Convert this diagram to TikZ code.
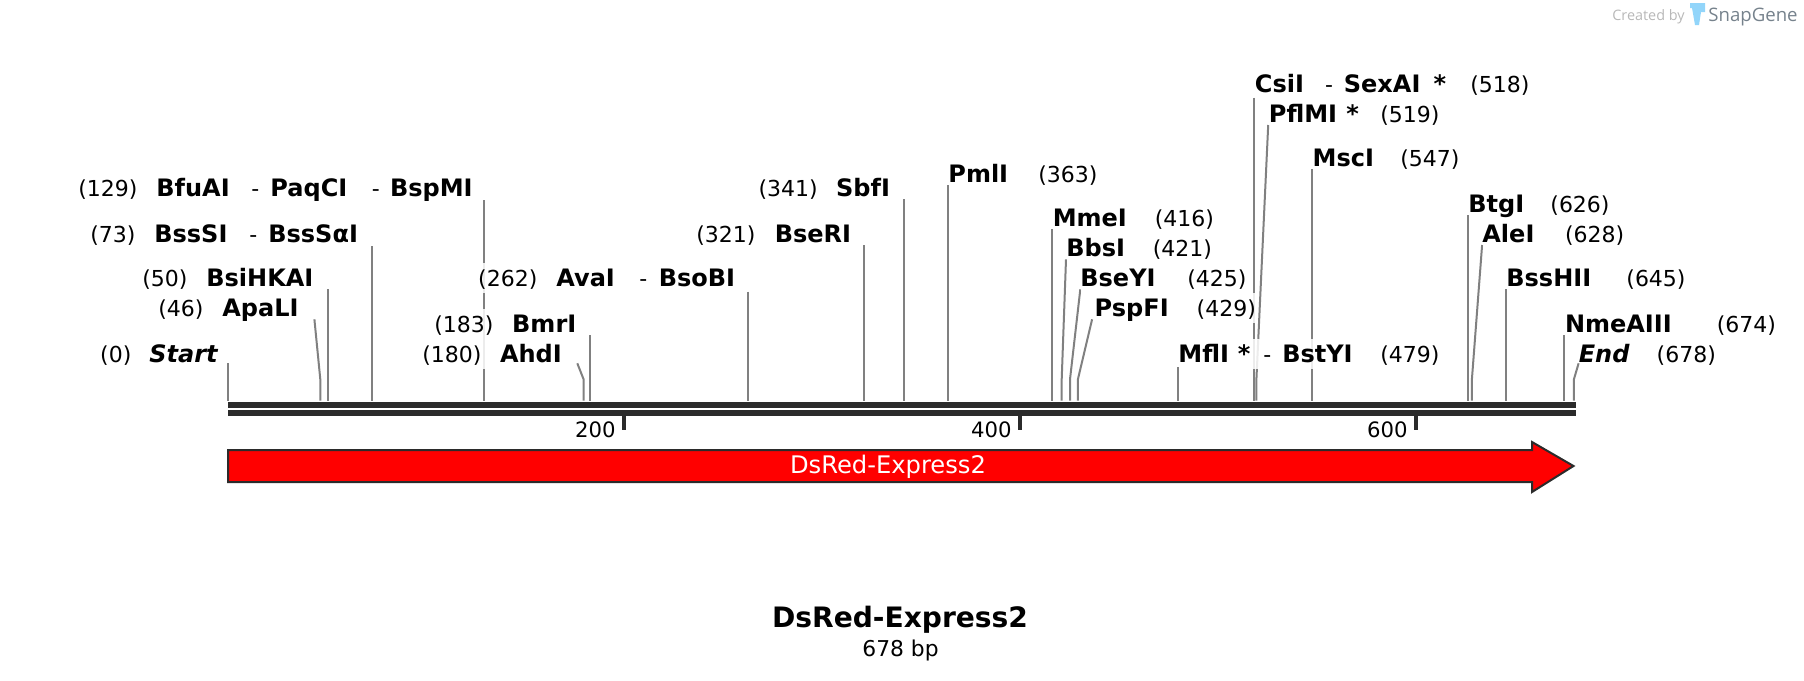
\documentclass[tikz,border=0pt]{standalone}
\usepackage{fontspec}
\usepackage{xcolor}
\usepackage{tikz}
\usetikzlibrary{backgrounds}
\setmainfont{DejaVu Sans}
\newfontfamily\logofont{Open Sans}

\definecolor{strandgray}{HTML}{2B2B2B}
\definecolor{leadergray}{HTML}{808080}
\definecolor{logoblue}{HTML}{92D5FA}
\definecolor{logogray}{HTML}{76828C}

% fixed width piece of a label, width in pt
\newcommand{\tk}[2]{\makebox[#1pt][l]{#2}}
\newcommand{\bp}[1]{{\fontsize{11pt}{12pt}\mdseries\selectfont(#1)}}
\newcommand{\dash}{{\fontsize{11pt}{12pt}\mdseries\selectfont-}}

\tikzset{
    sitelabel/.style={anchor=west, inner xsep=0pt, inner ysep=0pt, execute at begin node={\hspace*{-.5pt}},
        text height=11.75pt, text depth=3.25pt, fill=white, fill opacity=.85, text opacity=1,
        font=\fontsize{12pt}{13pt}\bfseries\selectfont},
    leader/.style={draw=leadergray, line width=1pt, shorten >=.5pt},
    strand/.style={rectangle, fill=strandgray, inner sep=0pt, minimum width=673.65pt, minimum height=3pt},
    ticktext/.style={anchor=base east, inner sep=0pt, font=\fontsize{10.6pt}{12pt}\selectfont},
}

\begin{document}
\begin{tikzpicture}[x=0.5pt, y=-0.5pt]
    \useasboundingbox (0,0) rectangle (1804,680);

    % backbone
    \node (strandtop) at (901.85,405) [strand] {};
    \node (strandbottom) at (901.85,413) [strand] {};

    % feature arrow
    \draw[fill=red, draw=strandgray, line width=1pt]
        (228,450) -- (1532,450) -- (1532,442) -- (1573.5,466) -- (1532,492) -- (1532,482) -- (228,482) -- cycle;
    \node (featurename) at (888,466.5) [inner sep=0pt, text=white, font=\fontsize{12.1pt}{14pt}\selectfont] {DsRed-Express2};

    % left hand labels
    \node (bfuai) at (79,187.7) [sitelabel] {\tk{39}{\bp{129}}\tk{47.5}{BfuAI}\tk{9.5}{\dash}\tk{50.75}{PaqCI}\tk{9.1}{\dash}BspMI};
    \node (bsssi) at (91,233.7) [sitelabel] {\tk{32}{\bp{73}}\tk{47.5}{BssSI}\tk{9.5}{\dash}BssSαI};
    \node (bsihkai) at (143,278) [sitelabel] {\tk{32}{\bp{50}}BsiHKAI};
    \node (apali) at (159,308) [sitelabel] {\tk{32}{\bp{46}}ApaLI};
    \node (start) at (100.8,354) [sitelabel] {\tk{24.6}{\bp{0}}\textit{Start}};
    \node (avai) at (478.8,278) [sitelabel] {\tk{39.1}{\bp{262}}\tk{41.5}{AvaI}\tk{9.75}{\dash}BsoBI};
    \node (bmri) at (435,324.3) [sitelabel] {\tk{38.9}{\bp{183}}BmrI};
    \node (ahdi) at (423,354) [sitelabel] {\tk{38.8}{\bp{180}}AhdI};
    \node (bseri) at (697,234.3) [sitelabel] {\tk{39.2}{\bp{321}}BseRI};
    \node (sbfi) at (759.2,188.3) [sitelabel] {\tk{38.75}{\bp{341}}SbfI};

    % right hand labels
    \node (pmli) at (949,173.7) [sitelabel] {\tk{45}{PmlI}\bp{363}};
    \node (mmei) at (1053.4,217.7) [sitelabel] {\tk{51}{MmeI}\bp{416}};
    \node (bbsi) at (1067,247.7) [sitelabel] {\tk{43.2}{BbsI}\bp{421}};
    \node (bseyi) at (1081,277.7) [sitelabel] {\tk{53.5}{BseYI}\bp{425}};
    \node (pspfi) at (1095.3,307.7) [sitelabel] {\tk{51}{PspFI}\bp{429}};
    \node (mfli) at (1179,353.7) [sitelabel] {\tk{29.8}{MflI}\tk{12.7}{*}\tk{9.45}{\dash}\tk{49}{BstYI}\bp{479}};
    \node (csii) at (1255.5,83.7) [sitelabel] {\tk{35.05}{CsiI}\tk{9.45}{\dash}\tk{44.9}{SexAI}\tk{18.35}{*}\bp{518}};
    \node (pflmi) at (1269.5,113.7) [sitelabel] {\tk{38.75}{PflMI}\tk{17}{*}\bp{519}};
    \node (msci) at (1313.3,157.7) [sitelabel] {\tk{43.85}{MscI}\bp{547}};
    \node (btgi) at (1469,204) [sitelabel] {\tk{41}{BtgI}\bp{626}};
    \node (alei) at (1483,234) [sitelabel] {\tk{41.3}{AleI}\bp{628}};
    \node (bsshii) at (1507,277.7) [sitelabel] {\tk{60}{BssHII}\bp{645}};
    \node (nmeaiii) at (1565.6,323.7) [sitelabel] {\tk{75.9}{NmeAIII}\bp{674}};
    \node (end) at (1579.4,353.7) [sitelabel] {\tk{38.95}{\textit{End}}\bp{678}};

    % leader lines, behind the labels
    \begin{scope}[on background layer]
        \foreach \site/\topx/\topy/\footx in {start/228.2/363/228.2, apali/314.4/319.3/320.3, bsihkai/328.2/289.3/328.2,
            bsssi/371.7/246/371.7, bfuai/484/200/484, ahdi/577.3/363.3/583.6, bmri/590/335.3/590, avai/747.7/291.7/747.7,
            bseri/864/245/864, sbfi/903.9/199.3/903.9, pmli/947.8/185/947.8, mmei/1051.8/229/1051.8, bbsi/1066/259.3/1061.7,
            bseyi/1080.3/289.3/1070, pspfi/1092.1/319.3/1077.9, mfli/1177.9/367/1177.9, csii/1254.4/97.7/1254.4,
            pflmi/1268.2/125/1256.4, msci/1311.7/169/1311.7, btgi/1467.9/215/1467.9, alei/1482.1/245/1471.9,
            bsshii/1505.9/289/1505.9, nmeaiii/1564/335/1564, end/1578.6/363.3/1573.9} {
            \coordinate (\site-top) at (\topx,\topy);
            \coordinate (\site-bend) at (\footx,379.3);
            \draw[leader] (\site-top) -- (\site-bend) -- (\site-bend |- strandtop.north);
        }
    \end{scope}

    % ruler
    \foreach \tickx/\ticktag in {624/200, 1020/400, 1416/600} {
        \coordinate (tick\ticktag) at (\tickx,416);
        \draw[draw=strandgray, line width=1.6pt] (tick\ticktag) -- ++(0,14);
        \node (ruler\ticktag) at (\tickx-8,437) [ticktext] {\ticktag};
    }

    % title
    \node (title) at (900,620) [inner sep=0pt, font=\fontsize{14.05pt}{16pt}\bfseries\selectfont] {DsRed-Express2};
    \node (length) at (900.5,650) [inner sep=0pt, font=\fontsize{10.9pt}{12pt}\selectfont] {678 bp};

    % watermark
    \node (createdby) at (1648.5,16.5) [inner sep=0pt, text=black!28, font=\logofont\fontsize{7.2pt}{8pt}\selectfont] {Created by};
    \fill[logoblue] (1690,3) -- (1705,3) -- (1705,12) -- (1701,12) -- (1699,25) -- (1695,25) -- (1692,8) -- (1690,8) -- cycle;
    \node (snapgene) at (1753,17) [inner sep=0pt, text=logogray, font=\logofont\fontsize{9.3pt}{10pt}\selectfont] {SnapGene};
\end{tikzpicture}
\end{document}
